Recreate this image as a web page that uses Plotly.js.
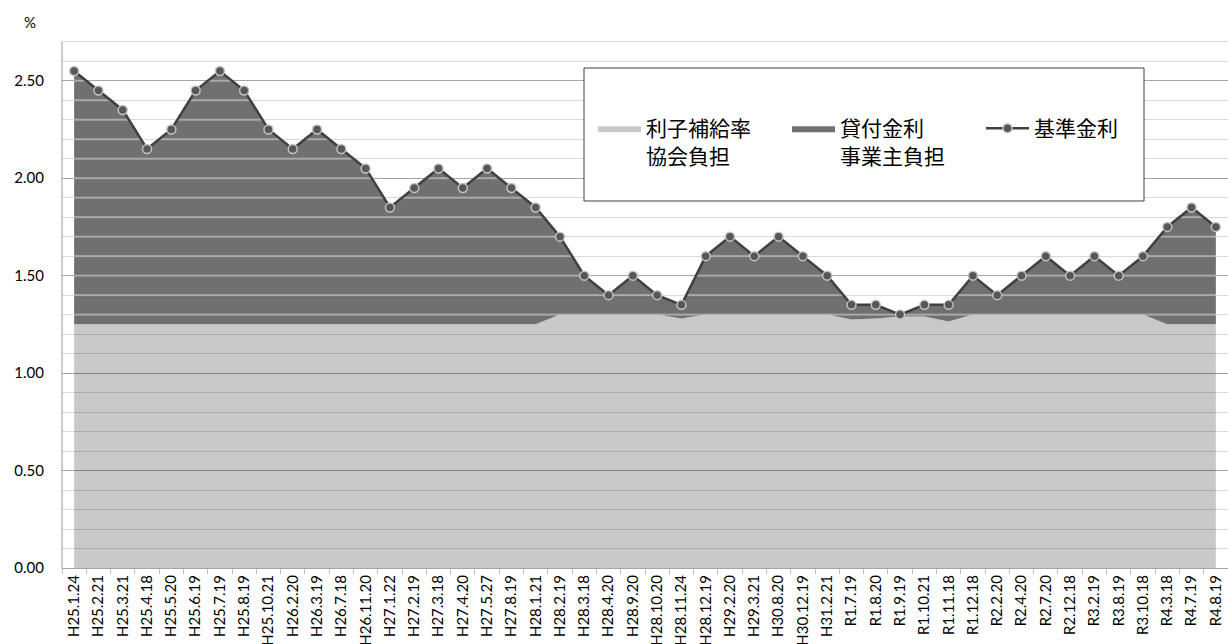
<!DOCTYPE html>
<html>
<head>
<meta charset="utf-8">
<script src="https://cdn.plot.ly/plotly-3.0.1.min.js"></script>
<style>
html,body{margin:0;padding:0;background:#fff;}
#chart{width:1228px;height:644px;}
</style>
</head>
<body>
<div id="chart"></div>
<script>
// ---- data ----
const categories = ['H25.1.24','H25.2.21','H25.3.21','H25.4.18','H25.5.20','H25.6.19','H25.7.19','H25.8.19','H25.10.21','H26.2.20','H26.3.19','H26.7.18','H26.11.20','H27.1.22','H27.2.19','H27.3.18','H27.4.20','H27.5.27','H27.8.19','H28.1.21','H28.2.19','H28.3.18','H28.4.20','H28.9.20','H28.10.20','H28.11.24','H28.12.19','H29.2.20','H29.3.21','H30.8.20','H30.12.19','H31.2.21','R1.7.19','R1.8.20','R1.9.19','R1.10.21','R1.11.18','R1.12.18','R2.2.20','R2.4.20','R2.7.20','R2.12.18','R3.2.19','R3.8.19','R3.10.18','R4.3.18','R4.7.19','R4.8.19'];

// 基準金利 (%)
const baseRate = [2.55,2.45,2.35,2.15,2.25,2.45,2.55,2.45,2.25,2.15,2.25,2.15,2.05,1.85,1.95,2.05,1.95,2.05,1.95,1.85,1.70,1.50,1.40,1.50,1.40,1.35,1.60,1.70,1.60,1.70,1.60,1.50,1.35,1.35,1.30,1.35,1.35,1.50,1.40,1.50,1.60,1.50,1.60,1.50,1.60,1.75,1.85,1.75];

// 利子補給率 協会負担 (%)
const subsidyRate = [1.25,1.25,1.25,1.25,1.25,1.25,1.25,1.25,1.25,1.25,1.25,1.25,1.25,1.25,1.25,1.25,1.25,1.25,1.25,1.25,1.30,1.30,1.30,1.30,1.30,1.28,1.30,1.30,1.30,1.30,1.30,1.30,1.275,1.28,1.29,1.29,1.265,1.30,1.30,1.30,1.30,1.30,1.30,1.30,1.30,1.25,1.25,1.25];

const seriesNames = ['利子補給率<br>協会負担', '貸付金利<br>事業主負担', '基準金利'];
const yTickValues = [0, 0.5, 1.0, 1.5, 2.0, 2.5];

// ---- layout constants ----
const W = 1228, H = 644;
const M = {l: 62, r: 0, t: 32, b: 76};
const yTop = 2.75;          // extra half-step so the pattern lines sit on 0.1 gridlines
const gridTop = 2.7;
const plotH = H - M.t - M.b;
const minorStep = 0.1;
const patternSize = plotH / (yTop / minorStep);

const jpFont = '"Noto Sans CJK JP", "Noto Sans", sans-serif';
const numFont = 'Lato, "Noto Sans", sans-serif';

const traces = [
  {
    x: categories, y: subsidyRate, type: 'scatter', mode: 'lines',
    name: seriesNames[0], fill: 'tozeroy',
    fillcolor: 'rgba(0,0,0,0.21)', line: {width: 0, color: 'rgba(0,0,0,0)'},
    hoverinfo: 'skip'
  },
  {
    x: categories, y: baseRate, type: 'scatter', mode: 'lines',
    name: seriesNames[1], fill: 'tonexty',
    fillcolor: '#707070',
    fillpattern: {shape: '-', bgcolor: '#707070', fgcolor: '#c4c4c4', size: patternSize, solidity: 0.07},
    line: {width: 0, color: 'rgba(0,0,0,0)'},
    hoverinfo: 'skip'
  },
  {
    x: categories, y: baseRate, type: 'scatter', mode: 'lines+markers',
    name: seriesNames[2],
    line: {color: '#404040', width: 2.5},
    marker: {size: 9, color: '#575757', line: {color: '#c4c4c4', width: 1.5}}
  }
];

const layout = {
  width: W, height: H,
  margin: M,
  paper_bgcolor: '#ffffff', plot_bgcolor: '#ffffff',
  showlegend: true,
  legend: {
    orientation: 'h',
    traceorder: 'normal',
    x: (593 - M.l) / (W - M.l), xanchor: 'left',
    y: (H - M.b - 108) / plotH, yanchor: 'top',
    bgcolor: 'rgba(0,0,0,0)', borderwidth: 0,
    font: {family: jpFont, size: 21, color: '#000000'},
    valign: 'top',
    itemwidth: 43,
    entrywidth: 136, entrywidthmode: 'pixels',
    itemclick: false, itemdoubleclick: false
  },
  xaxis: {
    type: 'category',
    range: [-0.5, categories.length - 0.5],
    showgrid: false,
    showline: true, linecolor: '#a6a6a6', linewidth: 1,
    ticks: 'outside', ticklen: 5, tickcolor: '#bfbfbf', tickson: 'boundaries',
    tickangle: -90,
    tickfont: {family: numFont, size: 15, color: '#000000'},
    automargin: false, fixedrange: true
  },
  yaxis: {
    range: [0, yTop],
    tickmode: 'array', tickvals: yTickValues,
    tickformat: '.2f',
    showgrid: true, gridcolor: '#a6a6a6', gridwidth: 1,
    minor: {dtick: minorStep, tick0: 0, showgrid: true, gridcolor: '#d9d9d9', gridwidth: 1, ticks: ''},
    showline: false, zeroline: false,
    ticks: '', ticklabelstandoff: 17,
    tickfont: {family: numFont, size: 15, color: '#000000'},
    automargin: false, fixedrange: true
  },
  shapes: [
    // y axis line (stops at the top gridline)
    {type: 'line', xref: 'paper', yref: 'y', x0: 0, x1: 0, y0: 0, y1: gridTop,
     line: {color: '#9a9a9a', width: 1}, layer: 'above'},
    // legend frame
    {type: 'rect', xref: 'paper', yref: 'paper',
     x0: (584 - M.l) / (W - M.l), x1: (1144 - M.l) / (W - M.l),
     y0: (H - M.b - 201) / plotH, y1: (H - M.b - 68) / plotH,
     fillcolor: '#ffffff', line: {color: '#404040', width: 1}, layer: 'above'}
  ],
  annotations: [
    {text: '%', xref: 'paper', yref: 'paper', x: (30 - M.l) / (W - M.l), y: (H - M.b - 22) / plotH,
     xanchor: 'center', yanchor: 'middle', showarrow: false,
     font: {family: numFont, size: 15, color: '#000000'}}
  ]
};

Plotly.newPlot('chart', traces, layout, {displayModeBar: false, staticPlot: true});
</script>
</body>
</html>
